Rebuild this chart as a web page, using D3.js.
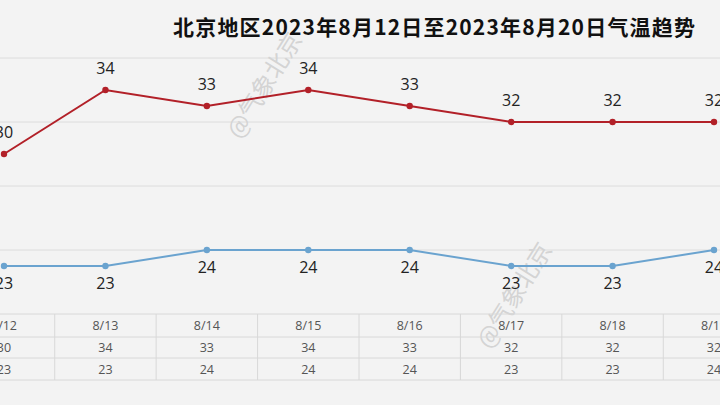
<!DOCTYPE html>
<html lang=zh-CN>
<head>
<meta charset=utf-8>
<title>北京地区气温趋势</title>
<style>body{margin:0;background:#f3f3f3}svg{display:block}</style>
</head>
<body>
<svg id=chart width=720 height=405></svg>
<script src=https://d3js.org/d3.v7.min.js></script>
<script>
const dates = ["8/12","8/13","8/14","8/15","8/16","8/17","8/18","8/19"];
const high = [30,34,33,34,33,32,32,32];
const low = [23,23,24,24,24,23,23,24];
const gridTicks = [24,28,32,36,40];

const svg = d3.select("#chart");
const x = d3.scaleLinear().domain([0,7]).range([4,714]);
const y = d3.scaleLinear().domain([24,32]).range([250,122]);
const step = x(1) - x(0);

svg.append("rect").attr("width",720).attr("height",405).attr("fill","#f3f3f3");
svg.selectAll(".grid").data(gridTicks).join("line")
  .attr("x1",0).attr("x2",720).attr("y1",d=>y(d)).attr("y2",d=>y(d))
  .attr("stroke","#dcdcdc").attr("stroke-width",1);

svg.append("text").attr("x",434).attr("y",35).attr("text-anchor","middle")
  .attr("font-family","Noto Sans CJK SC").attr("font-weight","bold").attr("font-size",21)
  .attr("textLength",522).attr("fill","#111").text("北京地区2023年8月12日至2023年8月20日气温趋势");

// watermarks
[[240,140],[490,350]].forEach(([wx,wy]) =>
  svg.append("text").attr("transform",`translate(${wx},${wy}) rotate(-58)`)
    .attr("font-family","Noto Sans CJK SC").attr("font-size",24).attr("fill","#d4d4d4")
    .text("@气象北京"));

function series(vals, color, above) {
  svg.append("path").datum(vals)
    .attr("d", d3.line().x((d,i)=>x(i)).y(d=>y(d)))
    .attr("fill","none").attr("stroke",color).attr("stroke-width",2);
  svg.selectAll(null).data(vals).join("circle")
    .attr("cx",(d,i)=>x(i)).attr("cy",d=>y(d)).attr("r",3.2).attr("fill",color);
  svg.selectAll(null).data(vals).join("text")
    .attr("x",(d,i)=>x(i)).attr("y",d=>y(d)+(above?-16:23))
    .attr("text-anchor","middle").attr("font-family","Open Sans, sans-serif")
    .attr("font-size",16).attr("fill","#222").text(d=>d);
}
series(high,"#b22028",true);
series(low,"#6aa3cf",false);

// data table
const rows = [dates, high, low];
const rowY = [314,337,358,380];
rowY.forEach(ry => svg.append("line").attr("x1",0).attr("x2",720).attr("y1",ry).attr("y2",ry)
  .attr("stroke","#d8d8d8"));
dates.forEach((d,i) => svg.append("line").attr("x1",x(i)+step/2).attr("x2",x(i)+step/2)
  .attr("y1",314).attr("y2",380).attr("stroke","#d8d8d8"));
rows.forEach((r,ri) => svg.selectAll(null).data(r).join("text")
  .attr("x",(d,i)=>x(i)).attr("y",(rowY[ri]+rowY[ri+1])/2+4.5)
  .attr("text-anchor","middle").attr("font-family","Open Sans, sans-serif")
  .attr("font-size",12.5).attr("fill","#555").text(d=>d));
</script>
</body>
</html>
